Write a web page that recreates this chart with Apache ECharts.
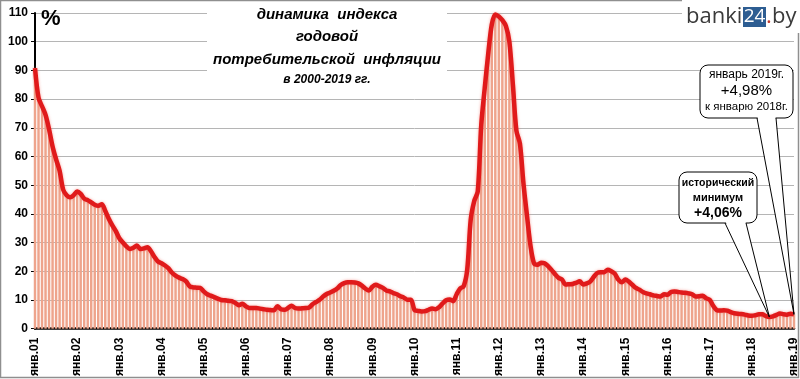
<!DOCTYPE html>
<html>
<head>
<meta charset="utf-8">
<script src="https://cdn.jsdelivr.net/npm/echarts@6/dist/echarts.min.js"></script>
<style>
  html, body { margin: 0; padding: 0; background: #fff; }
  #main { width: 800px; height: 379px; }
</style>
</head>
<body>
<div id="main"></div>
<script>
// годовая инфляция, % к тому же месяцу прошлого года (янв.2001 - янв.2019)
const months = ['янв', 'фев', 'мар', 'апр', 'май', 'июн', 'июл', 'авг', 'сен', 'окт', 'ноя', 'дек']
const years = ['01', '02', '03', '04', '05', '06', '07', '08', '09', '10', '11', '12', '13', '14', '15', '16', '17', '18', '19']

const v2001 = [90.8, 80.5, 77.5, 74.5, 69.5, 63.5, 59.0, 55.0, 48.5, 46.5, 45.8, 46.5]
const v2002 = [47.8, 47.0, 45.3, 44.8, 44.0, 43.2, 42.8, 43.4, 41.0, 38.3, 36.0, 34.0]
const v2003 = [31.5, 30.0, 28.7, 27.8, 28.2, 29.0, 27.8, 28.0, 28.4, 27.0, 25.0, 23.4]
const v2004 = [22.8, 22.0, 21.0, 19.5, 18.5, 17.8, 17.3, 16.5, 14.8, 14.4, 14.3, 14.2]
const v2005 = [13.0, 12.0, 11.5, 11.0, 10.5, 10.0, 9.9, 9.7, 9.6, 9.0, 8.2, 8.7]
const v2006 = [7.8, 7.2, 7.2, 7.2, 7.0, 6.8, 6.6, 6.5, 6.4, 7.8, 6.8, 6.6]
const v2007 = [7.2, 8.0, 7.2, 7.0, 7.1, 7.2, 7.4, 8.5, 9.3, 10.1, 11.2, 12.1]
const v2008 = [12.6, 13.2, 14.0, 15.2, 15.9, 16.2, 16.2, 16.1, 15.8, 15.0, 14.0, 13.3]
const v2009 = [14.6, 15.3, 14.8, 14.2, 13.3, 13.0, 12.4, 12.0, 11.3, 10.8, 10.1, 10.1]
const v2010 = [6.5, 6.2, 6.0, 6.1, 6.6, 7.0, 6.8, 7.5, 8.8, 9.9, 10.2, 9.6]
const v2011 = [12.0, 14.0, 14.8, 20.5, 38.0, 44.5, 47.8, 71.0, 84.0, 96.0, 106.0, 109.5]
const v2012 = [108.8, 107.5, 105.5, 100.0, 85.0, 69.0, 64.5, 50.7, 39.5, 29.0, 22.8, 22.3]
const v2013 = [23.0, 22.8, 21.8, 20.5, 19.0, 17.7, 17.1, 15.4, 15.5, 15.6, 16.0, 16.5]
const v2014 = [15.4, 15.8, 16.4, 18.0, 19.4, 19.7, 19.7, 20.5, 20.0, 19.2, 17.1, 16.2]
const v2015 = [17.1, 16.4, 15.3, 14.2, 13.6, 12.8, 12.3, 12.0, 11.6, 11.4, 11.2, 12.0]
const v2016 = [11.8, 12.8, 13.0, 12.8, 12.6, 12.5, 12.3, 12.0, 11.2, 11.3, 11.5, 10.6]
const v2017 = [10.1, 8.0, 6.5, 6.3, 6.4, 6.3, 5.8, 5.4, 5.2, 5.1, 4.9, 4.6]
const v2018 = [4.5, 4.7, 5.0, 5.0, 4.4, 4.06, 4.3, 4.8, 5.3, 5.0, 4.9, 5.2]
const v2019 = [4.98]

const values = [].concat(v2001, v2002, v2003, v2004, v2005, v2006, v2007, v2008, v2009,
  v2010, v2011, v2012, v2013, v2014, v2015, v2016, v2017, v2018, v2019)

const categories = []
years.forEach(function (y) {
  months.forEach(function (m) {
    if (categories.length < values.length) categories.push(m + '.' + y)
  })
})

const minIndex = values.indexOf(Math.min.apply(null, values))
const lastIndex = values.length - 1

const chart = echarts.init(document.getElementById('main'))

chart.setOption({
  animation: false,
  grid: { left: 35, right: 5, top: 13, bottom: 50 },
  xAxis: {
    type: 'category',
    data: categories,
    boundaryGap: false,
    axisLine: { lineStyle: { color: '#000', width: 2.5 } },
    axisTick: { show: false },
    axisLabel: {
      rotate: 90,
      interval: function (index) { return index % 12 === 0 },
      color: '#000',
      fontWeight: 'bold',
      fontSize: 12,
      fontFamily: 'Liberation Sans',
      margin: 9
    },
    splitLine: { show: false }
  },
  yAxis: {
    type: 'value',
    min: 0,
    max: 110,
    interval: 10,
    axisLine: { show: true, lineStyle: { color: '#000', width: 2 } },
    axisTick: { show: true, length: 4, lineStyle: { color: '#000' } },
    axisLabel: {
      color: '#000',
      fontWeight: 'bold',
      fontSize: 12,
      fontFamily: 'Liberation Sans',
      margin: 7
    },
    splitLine: { lineStyle: { color: '#b5b5b5', width: 1 } }
  },
  series: [
    {
      type: 'bar',
      data: values,
      barCategoryGap: '30%',
      itemStyle: { color: '#eea48c' },
      silent: true
    },
    {
      type: 'line',
      data: values,
      smooth: 0.3,
      showSymbol: false,
      lineStyle: {
        color: '#e01a1b',
        width: 4.5,
        shadowColor: 'rgba(240, 110, 100, 0.6)',
        shadowBlur: 3
      },
      silent: true
    }
  ]
})

// выноски: острие берём из координат данных
function callout(box, lines, tip, b1, b2, bold) {
  const els = []
  const bottom = box.y + box.h
  els.push({
    type: 'rect', z: 100,
    shape: { x: box.x, y: box.y, width: box.w, height: box.h, r: 8 },
    style: { fill: '#fff', stroke: '#000', lineWidth: 1 }
  })
  els.push({
    type: 'polygon', z: 101,
    shape: { points: [[b1 + 0.5, bottom - 1.5], [b2 - 0.5, bottom - 1.5], tip] },
    style: { fill: '#fff' }
  })
  els.push({
    type: 'polyline', z: 102,
    shape: { points: [[b1, bottom], tip, [b2, bottom]] },
    style: { stroke: '#000', lineWidth: 1, fill: null }
  })
  lines.forEach(function (l) {
    els.push({
      type: 'text', z: 103,
      style: {
        text: l.text, x: box.x + box.w / 2, y: l.y,
        textAlign: 'center', textVerticalAlign: 'middle',
        fill: '#000',
        font: (bold ? 'bold ' : '') + l.size + 'px "Liberation Sans"'
      }
    })
  })
  return els
}

const tipLast = chart.convertToPixel({ xAxisIndex: 0, yAxisIndex: 0 }, [lastIndex, values[lastIndex]])
const tipMin = chart.convertToPixel({ xAxisIndex: 0, yAxisIndex: 0 }, [minIndex, values[minIndex]])

const graphics = [
  // рамка
  {
    type: 'rect', z: 90,
    shape: { x: 0.5, y: 0.5, width: 798, height: 377 },
    style: { fill: null, stroke: '#8f8f8f', lineWidth: 1.5 }
  },
  // заголовок
  {
    type: 'rect', z: 95,
    shape: { x: 207, y: 4, width: 240, height: 88 },
    style: { fill: '#fff' }
  },
  { type: 'text', z: 96, style: { text: 'динамика  индекса', x: 327, y: 15, textAlign: 'center', textVerticalAlign: 'middle', fill: '#000', font: 'italic bold 15px "Liberation Sans"' } },
  { type: 'text', z: 96, style: { text: 'годовой', x: 327, y: 37, textAlign: 'center', textVerticalAlign: 'middle', fill: '#000', font: 'italic bold 15px "Liberation Sans"' } },
  { type: 'text', z: 96, style: { text: 'потребительской  инфляции', x: 327, y: 60, textAlign: 'center', textVerticalAlign: 'middle', fill: '#000', font: 'italic bold 15px "Liberation Sans"' } },
  { type: 'text', z: 96, style: { text: 'в 2000-2019 гг.', x: 327, y: 80, textAlign: 'center', textVerticalAlign: 'middle', fill: '#000', font: 'italic bold 12px "Liberation Sans"' } },
  // знак процента
  { type: 'text', z: 96, style: { text: '%', x: 41, y: 19, textVerticalAlign: 'middle', fill: '#000', font: 'bold 22px "Liberation Sans"' } },
  // логотип
  {
    type: 'rect', z: 95,
    shape: { x: 682, y: 0, width: 118, height: 33 },
    style: { fill: '#fff' }
  },
  { type: 'text', z: 96, style: { text: 'banki', x: 686, y: 17, textVerticalAlign: 'middle', fill: '#3a3a3a', font: '22px "Open Sans"' } },
  {
    type: 'rect', z: 96,
    shape: { x: 743, y: 7, width: 23, height: 20 },
    style: { fill: '#2d5d92' }
  },
  { type: 'text', z: 97, style: { text: '24', x: 754.5, y: 17, textAlign: 'center', textVerticalAlign: 'middle', fill: '#fff', font: '19px "Open Sans"' } },
  { type: 'text', z: 96, style: { text: '.', x: 766, y: 17, textVerticalAlign: 'middle', fill: '#c0392b', font: '22px "Open Sans"' } },
  { type: 'text', z: 96, style: { text: 'by', x: 772, y: 17, textVerticalAlign: 'middle', fill: '#3a3a3a', font: '22px "Open Sans"' } }
].concat(
  callout({ x: 700, y: 65, w: 93, h: 53 }, [
    { text: 'январь 2019г.', y: 75, size: 12 },
    { text: '+4,98%', y: 91, size: 15 },
    { text: 'к январю 2018г.', y: 107, size: 11.5 }
  ], tipLast, 757, 776, false),
  callout({ x: 679, y: 172, w: 78, h: 51 }, [
    { text: 'исторический', y: 183, size: 10.5 },
    { text: 'минимум', y: 197.5, size: 11 },
    { text: '+4,06%', y: 213, size: 14 }
  ], tipMin, 725, 746, true)
)

chart.setOption({ graphic: graphics })
</script>
</body>
</html>
